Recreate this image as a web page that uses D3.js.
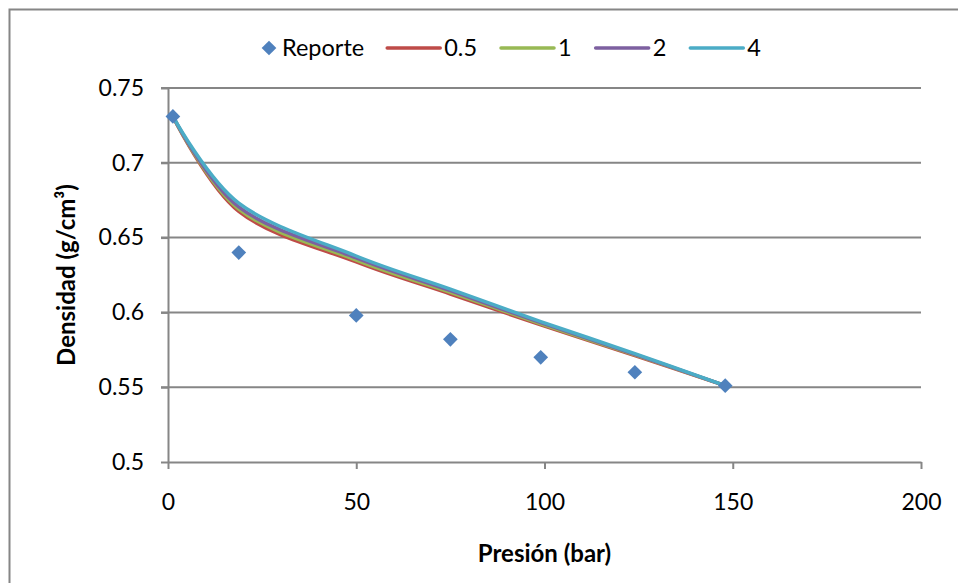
<!DOCTYPE html>
<html>
<head>
<meta charset="utf-8">
<script src="https://cdn.jsdelivr.net/npm/d3@7"></script>
<style>
  body { margin: 0; background: #fff; }
  svg text { font-family: Lato, "Open Sans", sans-serif; fill: #000; }
  .axis text { font-size: 23px; }
  .axis path, .axis line { stroke: #868686; stroke-width: 2; }
  .grid line { stroke: #868686; stroke-width: 2; }
  .axis-title { font-size: 24px; font-weight: bold; }
  .legend text { font-size: 23.5px; }
</style>
</head>
<body>
<div class="chart"></div>
<script>
// Presión (bar) of the reported points and the model curves
const pressures = [1.3, 18.8, 50, 75, 99, 124, 148];
const reporte = [0.731, 0.640, 0.598, 0.582, 0.570, 0.560, 0.551];

const seriesNames = ['0.5', '1', '2', '4'];
const model05 = [0.731, 0.6675, 0.6337, 0.6123, 0.5916, 0.5712, 0.551];
const model1 = [0.731, 0.669, 0.6350, 0.6134, 0.5924, 0.5716, 0.551];
const model2 = [0.731, 0.6705, 0.6364, 0.6145, 0.5931, 0.5720, 0.551];
const model4 = [0.731, 0.673, 0.6377, 0.6156, 0.5939, 0.5725, 0.551];

const xTicks = [0, 50, 100, 150, 200];
const yTicks = [0.5, 0.55, 0.6, 0.65, 0.7, 0.75];

const colors = ['#BE4B48', '#98B954', '#7D60A0', '#4BACC6'];
const markerColor = '#4F81BD';

const width = 958, height = 583;
const plot = {left: 168, right: 921, top: 88, bottom: 462};

const svg = d3.select('.chart').append('svg')
  .attr('width', width)
  .attr('height', height);

// outer chart border (cropped at right/bottom in the original)
svg.append('rect')
  .attr('x', 9.5).attr('y', 9.5)
  .attr('width', width).attr('height', height)
  .attr('fill', 'none')
  .attr('stroke', '#868686')
  .attr('stroke-width', 2);

const x = d3.scaleLinear().domain([0, 200]).range([plot.left, plot.right]);
const y = d3.scaleLinear().domain([0.5, 0.75]).range([plot.bottom, plot.top]);

// horizontal gridlines
svg.append('g')
  .classed('grid', true)
  .selectAll('line')
  .data(yTicks.slice(1))
  .join('line')
  .attr('x1', plot.left - 7)
  .attr('x2', plot.right)
  .attr('y1', d => y(d))
  .attr('y2', d => y(d));

svg.append('g')
  .classed('axis', true)
  .attr('transform', `translate(0,${plot.bottom})`)
  .call(d3.axisBottom(x).tickValues(xTicks).tickSize(7).tickSizeOuter(0).tickPadding(25).tickFormat(d3.format('d')))
  .call(g => g.selectAll('text').attr('font-family', null).attr('font-size', null));

svg.append('g')
  .classed('axis', true)
  .attr('transform', `translate(${plot.left},0)`)
  .call(d3.axisLeft(y).tickValues(yTicks).tickSize(7).tickSizeOuter(0).tickPadding(17).tickFormat(d3.format('~g')))
  .call(g => g.selectAll('text').attr('font-family', null).attr('font-size', null));

// axis titles
svg.append('text')
  .classed('axis-title', true)
  .attr('x', (plot.left + plot.right) / 2)
  .attr('y', 562)
  .attr('text-anchor', 'middle')
  .text('Presión (bar)');

svg.append('text')
  .classed('axis-title', true)
  .attr('transform', `translate(75,${(plot.top + plot.bottom) / 2}) rotate(-90)`)
  .attr('text-anchor', 'middle')
  .text('Densidad (g/cm³)');

// model curves
const models = [model05, model1, model2, model4];
const line = d3.line()
  .x((d, i) => x(pressures[i]))
  .y(d => y(d))
  .curve(d3.curveCatmullRom.alpha(0));

svg.append('g')
  .selectAll('path')
  .data(models)
  .join('path')
  .attr('d', d => line(d))
  .attr('fill', 'none')
  .attr('stroke', (_, i) => colors[i])
  .attr('stroke-width', 3.5)
  .attr('stroke-linejoin', 'round');

// reported points
const diamond = d3.symbol(d3.symbolSquare, 108);
svg.append('g')
  .selectAll('path')
  .data(reporte)
  .join('path')
  .attr('d', diamond)
  .attr('transform', (d, i) => `translate(${x(pressures[i])},${y(d)}) rotate(45)`)
  .attr('fill', markerColor);

// legend
const legend = svg.append('g').classed('legend', true).attr('transform', 'translate(0,48)');
let lx = 262;
legend.append('path')
  .attr('d', diamond)
  .attr('transform', `translate(${lx + 7},0) rotate(45)`)
  .attr('fill', markerColor);
let t = legend.append('text').attr('x', lx + 20).attr('dy', '0.35em').text('Reporte');
lx += 20 + t.node().getComputedTextLength() + 23;

seriesNames.forEach((name, i) => {
  legend.append('line')
    .attr('x1', lx).attr('x2', lx + 53)
    .attr('stroke', colors[i])
    .attr('stroke-width', 3.5)
    .attr('stroke-linecap', 'round');
  const txt = legend.append('text').attr('x', lx + 57).attr('dy', '0.35em').text(name);
  lx += 57 + txt.node().getComputedTextLength() + 24;
});
</script>
</body>
</html>
